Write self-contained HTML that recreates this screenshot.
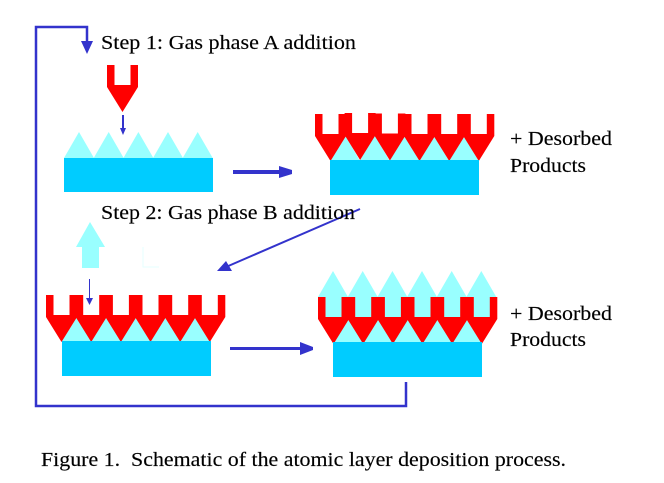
<!DOCTYPE html>
<html>
<head>
<meta charset="utf-8">
<style>
html,body{margin:0;padding:0;background:#fff;width:664px;height:483px;overflow:hidden}
svg{display:block}
text{font-family:"Liberation Serif",serif;font-size:20px;fill:#000;stroke:#000;stroke-width:.15px;white-space:pre}
</style>
</head>
<body>
<svg width="664" height="483" viewBox="0 0 664 483" xmlns="http://www.w3.org/2000/svg">
<defs>
<polygon id="t" points="0,26 15,0 30,26" fill="#99ffff"/>
<polygon id="u" points="0,0 7.5,0 7.5,20 23.5,20 23.5,0 31,0 31,22 15.5,47 0,22" fill="#ff0000"/>
</defs>

<!-- Return line -->
<polyline points="406,382 406,406 36,406 36,27 87,27 87,43" fill="none" stroke="#3333cc" stroke-width="2.5"/>
<polygon points="81,41 93,41 87,54" fill="#3333cc"/>

<!-- Panel 1 -->
<use href="#u" x="107" y="65"/>
<use href="#t" x="64" y="132"/><use href="#t" x="93.700" y="132"/><use href="#t" x="123.400" y="132"/><use href="#t" x="153" y="132"/><use href="#t" x="182.700" y="132"/>
<rect x="64" y="158" width="149" height="34" fill="#00ccff"/>
<rect x="122" y="115" width="2" height="15" fill="#3333cc"/>
<polygon points="120,128 126,128 123,135" fill="#3333cc"/>

<!-- Arrow 1 -->
<rect x="233" y="170" width="59" height="4" fill="#3333cc"/>
<polygon points="279,166 292,170 292,174 279,178" fill="#3333cc"/>

<!-- Panel 2 -->
<use href="#t" x="330" y="135"/><use href="#t" x="359.700" y="135"/><use href="#t" x="389.400" y="135"/><use href="#t" x="419" y="135"/><use href="#t" x="448.700" y="135"/>
<use href="#u" x="315" y="114"/><use href="#u" x="344.600" y="113"/><use href="#u" x="374.400" y="113.500"/><use href="#u" x="404" y="114"/><use href="#u" x="433.700" y="114"/><use href="#u" x="463.300" y="114"/>
<rect x="330" y="160" width="149" height="35" fill="#00ccff"/>

<!-- Arrow 2 diagonal -->
<line x1="360" y1="209" x2="226" y2="267" stroke="#3333cc" stroke-width="2"/>
<polygon points="217,271 226,261 232,271" fill="#3333cc"/>

<!-- Up arrow -->
<polygon points="90,222 105,247 99,247 99,268 82,268 82,247 76,247" fill="#99ffff"/>
<polyline points="143,247 143,267 159,267" fill="none" stroke="#e6ffff" stroke-width="1"/>

<!-- Panel 3 -->
<use href="#t" x="62" y="315"/><use href="#t" x="91.700" y="315"/><use href="#t" x="121.400" y="315"/><use href="#t" x="151" y="315"/><use href="#t" x="180.700" y="315"/>
<use href="#u" x="46" y="295"/><use href="#u" x="75.700" y="295"/><use href="#u" x="105.400" y="295"/><use href="#u" x="135" y="295"/><use href="#u" x="164.700" y="295"/><use href="#u" x="194.300" y="295"/>
<rect x="62" y="341" width="149" height="35" fill="#00ccff"/>
<rect x="89" y="279" width="1" height="21" fill="#3333cc"/>
<polygon points="86,298 93,298 89.500,305" fill="#3333cc"/>

<!-- Arrow 3 -->
<rect x="230" y="347" width="83" height="3" fill="#3333cc"/>
<polygon points="300,342 313,347 313,350 300,355" fill="#3333cc"/>

<!-- Panel 4 -->
<use href="#t" x="318" y="271"/><use href="#t" x="347.700" y="271"/><use href="#t" x="377.400" y="271"/><use href="#t" x="407" y="271"/><use href="#t" x="436.700" y="271"/><use href="#t" x="466.300" y="271"/>
<rect x="318" y="297" width="179" height="21" fill="#99ffff"/>
<use href="#t" x="333" y="317"/><use href="#t" x="362.700" y="317"/><use href="#t" x="392.400" y="317"/><use href="#t" x="422" y="317"/><use href="#t" x="451.700" y="317"/>
<use href="#u" x="318" y="297"/><use href="#u" x="347.700" y="297"/><use href="#u" x="377.400" y="297"/><use href="#u" x="407" y="297"/><use href="#u" x="436.700" y="297"/><use href="#u" x="466.300" y="297"/>
<rect x="333" y="342" width="149" height="35" fill="#00ccff"/>

<!-- Text -->
<text x="101" y="49" textLength="255" lengthAdjust="spacingAndGlyphs">Step 1: Gas phase A addition</text>
<text x="101" y="219" textLength="254" lengthAdjust="spacingAndGlyphs">Step 2: Gas phase B addition</text>
<text x="510" y="145" textLength="102" lengthAdjust="spacingAndGlyphs">+ Desorbed</text>
<text x="510" y="172" textLength="76" lengthAdjust="spacingAndGlyphs">Products</text>
<text x="510" y="320" textLength="102" lengthAdjust="spacingAndGlyphs">+ Desorbed</text>
<text x="510" y="346" textLength="76" lengthAdjust="spacingAndGlyphs">Products</text>
<text x="41" y="466" textLength="525" lengthAdjust="spacingAndGlyphs">Figure 1.  Schematic of the atomic layer deposition process.</text>
</svg>
</body>
</html>
